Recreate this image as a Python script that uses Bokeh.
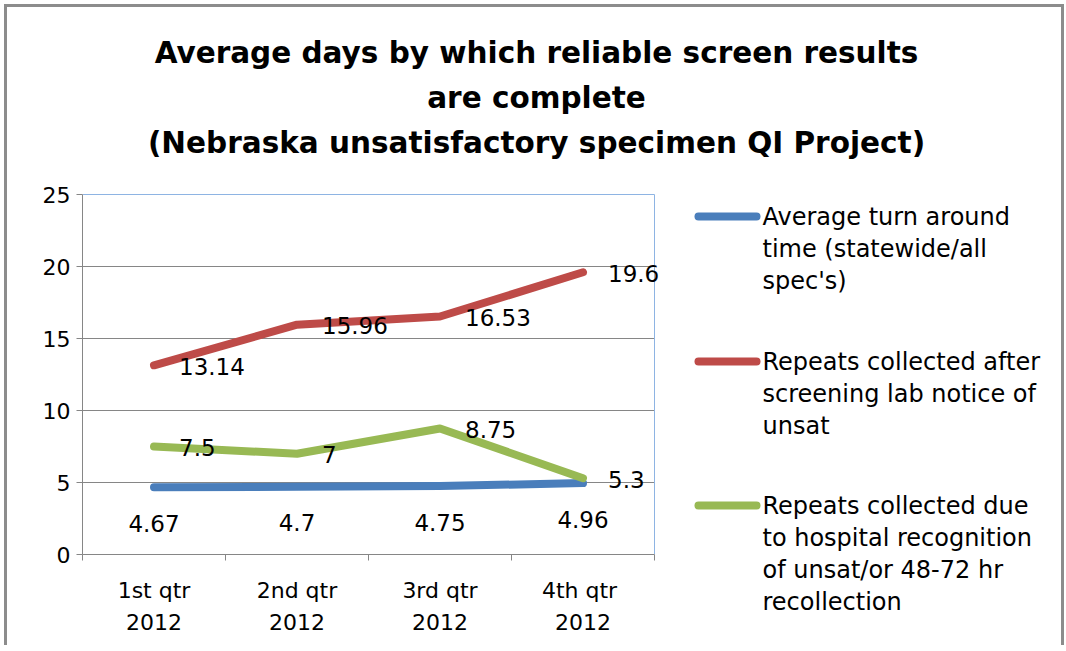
from bokeh.plotting import figure
from bokeh.layouts import column, row
from bokeh.models import Range1d, LinearAxis, FixedTicker, ColumnDataSource, LabelSet
from bokeh.embed import file_html
from bokeh.resources import INLINE
from bokeh.core.properties import value

# ---------------- data ----------------
categories = ["1st qtr\n2012", "2nd qtr\n2012", "3rd qtr\n2012", "4th  qtr\n2012"]
avg_turnaround = [4.67, 4.7, 4.75, 4.96]
repeats_lab_notice = [13.14, 15.96, 16.53, 19.6]
repeats_hospital = [7.5, 7, 8.75, 5.3]
y_ticks = [0, 5, 10, 15, 20, 25]

series_names = [
    ["Average turn around", "time (statewide/all", "spec's)"],
    ["Repeats collected after", "screening lab notice of", "unsat"],
    ["Repeats collected due", "to hospital recognition", "of unsat/or 48-72 hr", "recollection"],
]
title_lines = ["Average days by which reliable screen results",
               "are complete",
               "(Nebraska unsatisfactory specimen QI Project)"]

# ---------------- styles / geometry ----------------
COLORS = ["#4A7EBB", "#BE4B48", "#98B954"]
GRAY = "#868686"
BORDER_BLUE = "#8EB4E3"
FONT = "DejaVu Sans"

N = len(categories)
Y_TOP = y_ticks[-1]
cat_pos = [i + 0.5 for i in range(N)]          # category centres
bounds = list(range(N + 1))                     # category boundaries (tick marks)

OFF = 4                         # css margin of the layout
TOTAL_W = 1060
TITLE_H = 166
BODY_H = 475
MAIN_W = 680
LEG_W = TOTAL_W - MAIN_W
FL = 78                         # frame left in main canvas
FB = 384                        # y=0 position in main canvas
PX_X = 572.0 / N                # px per category
PX_Y = 360.0 / Y_TOP            # px per day


def blank(w, h):
    f = figure(width=w, height=h, x_range=Range1d(0, w), y_range=Range1d(h, 0),
               x_axis_location=None, y_axis_location=None,
               output_backend="svg", toolbar_location=None,
               min_border=0, frame_align=False)
    f.xgrid.visible = False
    f.ygrid.visible = False
    f.outline_line_color = None
    f.border_fill_color = None
    f.background_fill_color = None
    return f


# ---------------- title ----------------
tf = blank(TOTAL_W, TITLE_H)
tf.text(x=[536 - OFF] * len(title_lines), y=[52 - OFF + 45 * i for i in range(len(title_lines))],
        text=title_lines, text_align="center", text_baseline="middle",
        text_font=value(FONT), text_font_style="bold", text_font_size="29.5px",
        text_color="#000000")

# ---------------- main chart ----------------
p = figure(width=MAIN_W, height=BODY_H,
           x_range=Range1d(0, (MAIN_W - FL) / PX_X), y_range=Range1d(0, FB / PX_Y),
           x_axis_location=None, y_axis_location=None,
           output_backend="svg", toolbar_location=None,
           min_border_left=FL, min_border_right=0, min_border_top=0,
           min_border_bottom=BODY_H - FB, frame_align=False)
p.xgrid.visible = False
p.ygrid.visible = False
p.outline_line_color = None
p.border_fill_color = None
p.background_fill_color = None

yaxis = LinearAxis(ticker=FixedTicker(ticks=y_ticks), bounds=(0, Y_TOP),
                   major_tick_out=6, major_tick_in=0,
                   minor_tick_line_color=None, axis_line_color=GRAY, major_tick_line_color=GRAY,
                   major_label_text_font=FONT, major_label_text_font_size="22px",
                   major_label_text_color="#000000", major_label_standoff=6)
p.add_layout(yaxis, "left")

xaxis = LinearAxis(ticker=FixedTicker(ticks=cat_pos, minor_ticks=bounds), bounds=(0, N),
                   major_label_overrides={pos: c for pos, c in zip(cat_pos, categories)},
                   axis_line_color=GRAY, major_tick_line_color=None,
                   minor_tick_line_color=GRAY, minor_tick_out=6, minor_tick_in=0,
                   major_tick_out=6, major_tick_in=0,
                   major_label_text_font=FONT, major_label_text_font_size="22px",
                   major_label_text_line_height=1.29,
                   major_label_text_color="#000000", major_label_standoff=17)
p.add_layout(xaxis, "below")

# gridlines and plot-area border (top / right)
grid_y = y_ticks[1:-1]
p.segment(x0=[0] * len(grid_y), x1=[N] * len(grid_y), y0=grid_y, y1=grid_y,
          line_color=GRAY, line_width=1)
p.segment(x0=[0, N], x1=[N, N], y0=[Y_TOP, 0], y1=[Y_TOP, Y_TOP],
          line_color=BORDER_BLUE, line_width=1)

all_series = [avg_turnaround, repeats_lab_notice, repeats_hospital]
sources = []
for vals, col in zip(all_series, COLORS):
    src = ColumnDataSource(dict(x=cat_pos, y=vals, label=["{:g}".format(v) for v in vals]))
    sources.append(src)
    p.line(x="x", y="y", source=src, line_width=8, line_color=col,
           line_cap="round", line_join="round")

p.add_layout(LabelSet(x="x", y="y", text="label", source=sources[0], y_offset=-36,
                      text_align="center", text_baseline="middle",
                      text_font=value(FONT), text_font_size=value("23px"), text_color="#000000"))
for src in sources[1:]:
    p.add_layout(LabelSet(x="x", y="y", text="label", source=src, x_offset=25, y_offset=-1,
                          text_align="left", text_baseline="middle",
                          text_font=value(FONT), text_font_size=value("23px"),
                          text_color="#000000"))

# ---------------- legend ----------------
lf = blank(LEG_W, BODY_H)
LX0 = OFF + MAIN_W                  # page x of legend canvas
LY0 = OFF + TITLE_H                 # page y of legend canvas
first_y = [216, 361, 505]
LINE_STEP = 32
lf.segment(x0=[698 - LX0] * 3, x1=[756 - LX0] * 3,
           y0=[y - LY0 for y in first_y], y1=[y - LY0 for y in first_y],
           line_color=COLORS, line_width=8, line_cap="round")
lx, ly, lt = [], [], []
for names, fy in zip(series_names, first_y):
    for k, line in enumerate(names):
        lx.append(762 - LX0)
        ly.append(fy - LY0 + LINE_STEP * k)
        lt.append(line)
lf.text(x=lx, y=ly, text=lt, text_align="left", text_baseline="middle",
        text_font=value(FONT), text_font_size="24px", text_color="#000000")

layout = column(tf, row(p, lf, spacing=0), spacing=0)
layout.styles = {"margin-left": "4px", "margin-top": "4px",
                 "box-shadow": "inset 3px 3px 0 #8c8c8c, inset -3px 0 0 #8c8c8c"}

open("out.html", "w").write(file_html(layout, INLINE))
